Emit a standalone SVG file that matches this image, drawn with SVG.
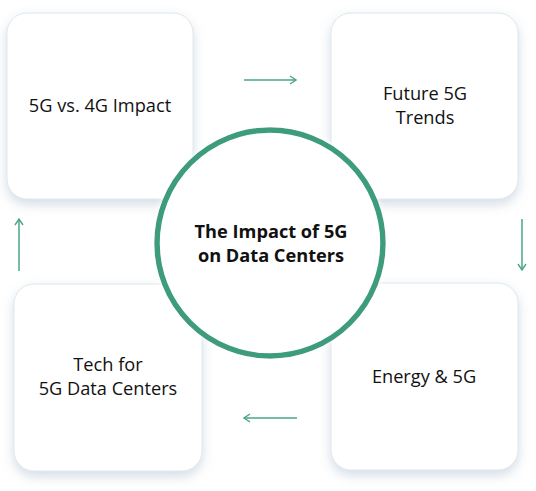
<svg xmlns="http://www.w3.org/2000/svg" width="536" height="491" viewBox="0 0 536 491">
<defs>
<filter id="sh" x="-20%" y="-20%" width="140%" height="150%">
<feDropShadow dx="0" dy="5" stdDeviation="6" flood-color="#9fb4c8" flood-opacity="0.45"/>
</filter>
<filter id="csh" x="-20%" y="-20%" width="140%" height="140%">
<feDropShadow dx="0" dy="0" stdDeviation="3" flood-color="#ffffff" flood-opacity="1"/>
</filter>
<marker id="ah" markerWidth="8" markerHeight="10" refX="7" refY="5" orient="auto" markerUnits="userSpaceOnUse">
<path d="M1,1 L7,5 L1,9" fill="none" stroke="#4aa785" stroke-width="1.4"/>
</marker>
<style>
.box{fill:#ffffff;stroke:#dce8ef;stroke-width:1;filter:url(#sh)}
.lbl{font-family:"Open Sans","Noto Sans",sans-serif;font-size:18.2px;font-weight:500;fill:#111111;text-anchor:middle}
.ttl{font-family:"Open Sans","Noto Sans",sans-serif;font-size:18.2px;font-weight:bold;fill:#111111;text-anchor:middle}
.arr{stroke:#4aa785;stroke-width:1.5;fill:none;marker-end:url(#ah)}
</style>
</defs>
<rect width="536" height="491" fill="#ffffff"/>
<g id="node-tl">
<rect class="box" x="7" y="13" width="186" height="186" rx="20"/>
<text class="lbl" x="100" y="112">5G vs. 4G Impact</text>
</g>
<g id="node-tr">
<rect class="box" x="331" y="13" width="187" height="186" rx="20"/>
<text class="lbl" x="425" y="100">Future 5G</text>
<text class="lbl" x="425" y="124">Trends</text>
</g>
<g id="node-br">
<rect class="box" x="331" y="283" width="187" height="187" rx="20"/>
<text class="lbl" x="424" y="383">Energy &amp; 5G</text>
</g>
<g id="node-bl">
<rect class="box" x="14" y="284" width="188" height="187" rx="20"/>
<text class="lbl" x="108" y="371">Tech for</text>
<text class="lbl" x="108" y="395">5G Data Centers</text>
</g>
<g id="connectors">
<line class="arr" x1="244" y1="80" x2="296" y2="80"/>
<line class="arr" x1="522" y1="219" x2="522" y2="270"/>
<line class="arr" x1="297" y1="418" x2="244" y2="418"/>
<line class="arr" x1="19" y1="271" x2="19" y2="219"/>
</g>
<g id="node-center">
<circle cx="270" cy="243" r="113" fill="#ffffff" stroke="#3c9c7b" stroke-width="5.5" filter="url(#csh)"/>
<text class="ttl" x="271" y="238">The Impact of 5G</text>
<text class="ttl" x="271" y="262">on Data Centers</text>
</g>
</svg>
